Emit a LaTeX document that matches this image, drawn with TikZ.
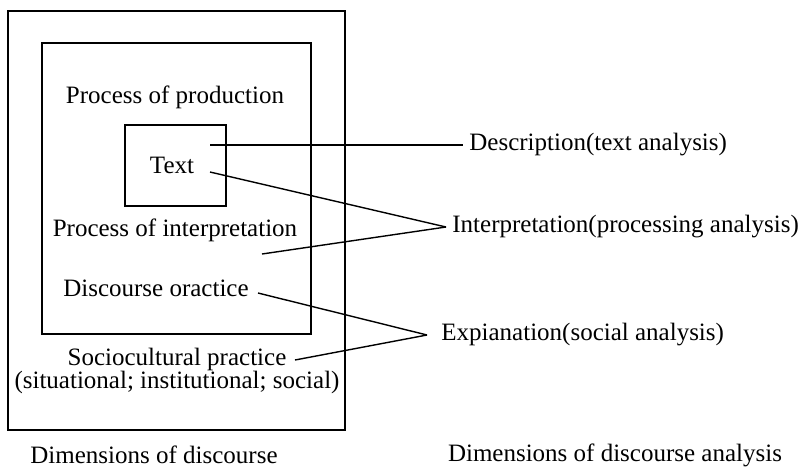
\documentclass[tikz,border=0pt]{standalone}
\usepackage{fontspec}
\setmainfont{Liberation Serif}
\usetikzlibrary{positioning}

\begin{document}
\begin{tikzpicture}[x=0.5pt,y=-0.5pt,
  lbl/.style={font=\fontsize{12.5}{11.5}\selectfont,inner sep=3pt},
  box/.style={draw,line width=0.7pt,inner sep=0pt},
  link/.style={line width=0.7pt}]
  \useasboundingbox (0,0) rectangle (805,473);
  % Boxes
  \node[box,minimum width=168.5pt,minimum height=209.5pt] (outer) at (176.5,220.5) {};
  \node[box,minimum width=134.5pt,minimum height=145.5pt] (inner) at (176.5,188.5) {};
  \node[box,minimum width=50.5pt,minimum height=40.5pt] (textbox) at (175.5,165.5) {};
  % Labels in the boxes
  \node[lbl] (prod) at (175,97) {Process of production};
  \node[lbl] (text) at (172,165) {Text};
  \node[lbl] (interp) at (175,230) {Process of interpretation};
  \node[lbl] (disc) at (156,288) {Discourse oractice};
  \node[lbl,align=center] (socio) at (177,371) {Sociocultural practice\\(situational; institutional; social)};
  \node[lbl] (dimA) at (154,455) {Dimensions of discourse};
  % Labels on the right
  \node[lbl,anchor=west] (descr) at (463,145) {Description(text analysis)};
  \node[lbl,anchor=west] (interpr) at (446,227) {Interpretation(processing analysis)};
  \node[lbl,anchor=west] (expl) at (435,335) {Expianation(social analysis)};
  \node[lbl] (dimB) at (615,455) {Dimensions of discourse analysis};
  % Free ends
  \coordinate (c1) at (210,145);
  \coordinate (c2) at (210,172);
  \coordinate (c3) at (262,254);
  \coordinate (c4) at (258,293);
  \coordinate (c5) at (295,360);
  % Lines
  \draw[link] (c1) -- (descr.west);
  \draw[link] (c2) -- (interpr.west);
  \draw[link] (c3) -- (interpr.west);
  \draw[link] (c4) -- ([xshift=-4pt]expl.west);
  \draw[link] (c5) -- ([xshift=-4pt]expl.west);
\end{tikzpicture}
\end{document}
